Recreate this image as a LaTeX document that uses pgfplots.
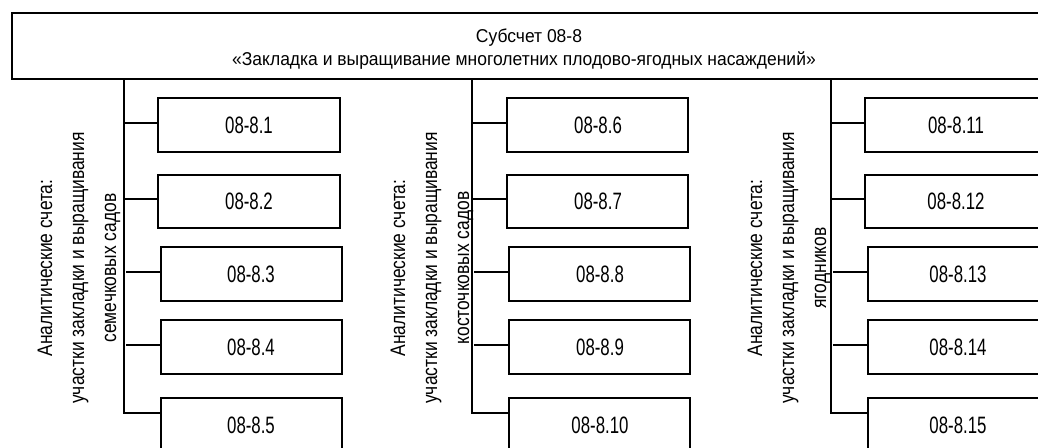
\documentclass[border=0pt]{standalone}
\usepackage{fontspec}
\setmainfont{Liberation Sans}
\newfontfamily\topfont{Liberation Sans}[FakeStretch=0.94]
\newfontfamily\boxfont{Liberation Sans}[FakeStretch=0.71]
\newfontfamily\sidefont{Liberation Sans}[FakeStretch=0.83]
\usepackage{pgfplots}
\pgfplotsset{compat=1.18}
\begin{document}
\begin{tikzpicture}[
  top/.style={font=\topfont\fontsize{9.3}{11}\selectfont, inner sep=0pt},
  txt/.style={font=\boxfont\fontsize{11.85}{14}\selectfont, inner sep=0pt},
  side/.style={font=\sidefont\fontsize{10.5}{16}\selectfont, rotate=90, align=center, inner sep=0pt},
]
\begin{axis}[
    name=ax,
    width=519pt, height=224pt,
    scale only axis,
    xmin=0, xmax=1038,
    ymin=0, ymax=448,
    y dir=reverse,
    hide axis,
    clip=true,
]
\pgfplotsset{ln/.style={black, solid, line width=1pt, line cap=rect, mark=none}}
% top box
\addplot[ln] coordinates {(12,13) (1060,13) (1060,79) (12,79) (12,13)};
\node[top] at (axis cs:529,37.5) {Субсчет 08-8};
\node[top] at (axis cs:524,61) {«Закладка и выращивание многолетних плодово-ягодных насаждений»};

% column 1
\addplot[ln] coordinates {(124,79) (124,413)};
\addplot[ln] coordinates {(124,123) (158,123)};
\addplot[ln] coordinates {(124,199) (158,199)};
\addplot[ln] coordinates {(127,272) (161,272)};
\addplot[ln] coordinates {(127,345) (161,345)};
\addplot[ln] coordinates {(124,413) (161,413)};
\addplot[ln] coordinates {(158,98) (340,98) (340,152) (158,152) (158,98)};
\addplot[ln] coordinates {(158,175) (340,175) (340,228) (158,228) (158,175)};
\addplot[ln] coordinates {(161,247) (342,247) (342,301) (161,301) (161,247)};
\addplot[ln] coordinates {(161,320) (342,320) (342,374) (161,374) (161,320)};
\addplot[ln] coordinates {(161,398) (342,398) (342,470) (161,470) (161,398)};
\node[txt] at (axis cs:249,125) {08-8.1};
\node[txt] at (axis cs:249,201) {08-8.2};
\node[txt] at (axis cs:251,274) {08-8.3};
\node[txt] at (axis cs:251,347) {08-8.4};
\node[txt] at (axis cs:251,425) {08-8.5};
\node[side] at (axis cs:79,268) {Аналитические счета:\\участки закладки и выращивания\\семечковых садов};

% column 2
\addplot[ln] coordinates {(472,79) (472,413)};
\addplot[ln] coordinates {(472,123) (507,123)};
\addplot[ln] coordinates {(472,199) (507,199)};
\addplot[ln] coordinates {(475,272) (509,272)};
\addplot[ln] coordinates {(475,345) (509,345)};
\addplot[ln] coordinates {(472,413) (509,413)};
\addplot[ln] coordinates {(507,98) (688,98) (688,152) (507,152) (507,98)};
\addplot[ln] coordinates {(507,175) (688,175) (688,228) (507,228) (507,175)};
\addplot[ln] coordinates {(509,247) (690,247) (690,301) (509,301) (509,247)};
\addplot[ln] coordinates {(509,320) (690,320) (690,374) (509,374) (509,320)};
\addplot[ln] coordinates {(509,398) (690,398) (690,470) (509,470) (509,398)};
\node[txt] at (axis cs:598,125) {08-8.6};
\node[txt] at (axis cs:598,201) {08-8.7};
\node[txt] at (axis cs:600,274) {08-8.8};
\node[txt] at (axis cs:600,347) {08-8.9};
\node[txt] at (axis cs:600,425) {08-8.10};
\node[side] at (axis cs:432,268) {Аналитические счета:\\участки закладки и выращивания\\косточковых садов};

% column 3
\addplot[ln] coordinates {(831,79) (831,413)};
\addplot[ln] coordinates {(831,123) (865,123)};
\addplot[ln] coordinates {(831,199) (865,199)};
\addplot[ln] coordinates {(834,272) (868,272)};
\addplot[ln] coordinates {(834,345) (868,345)};
\addplot[ln] coordinates {(831,413) (868,413)};
\addplot[ln] coordinates {(865,98) (1060,98) (1060,152) (865,152) (865,98)};
\addplot[ln] coordinates {(865,175) (1060,175) (1060,228) (865,228) (865,175)};
\addplot[ln] coordinates {(868,247) (1060,247) (1060,301) (868,301) (868,247)};
\addplot[ln] coordinates {(868,320) (1060,320) (1060,374) (868,374) (868,320)};
\addplot[ln] coordinates {(868,398) (1060,398) (1060,470) (868,470) (868,398)};
\node[txt] at (axis cs:956,125) {08-8.11};
\node[txt] at (axis cs:956,201) {08-8.12};
\node[txt] at (axis cs:958,274) {08-8.13};
\node[txt] at (axis cs:958,347) {08-8.14};
\node[txt] at (axis cs:958,425) {08-8.15};
\node[side] at (axis cs:789,268) {Аналитические счета:\\участки закладки и выращивания\\ягодников};
\end{axis}
\pgfresetboundingbox
\useasboundingbox (ax.south west) rectangle (ax.north east);
\end{tikzpicture}
\end{document}
